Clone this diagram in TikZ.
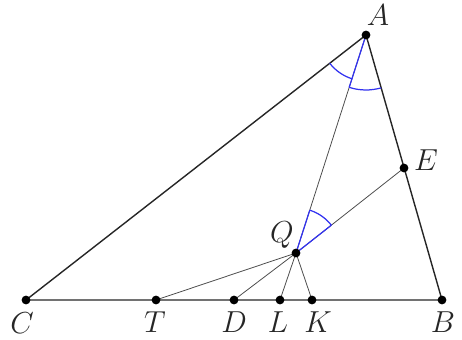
\documentclass[tikz,border=0pt]{standalone}
\usetikzlibrary{calc,angles}
\definecolor{mblue}{RGB}{50,50,240}
\begin{document}
\begin{tikzpicture}[x=0.02cm,y=-0.02cm,
  tri/.style={line width=0.8pt,black!85},
  thinline/.style={line width=0.45pt,black!70},
  angmark/.style={draw=mblue,line width=0.7pt},
  dot/.style={circle,fill=black,inner sep=0pt,minimum size=5pt},
  lab/.style={font=\fontsize{18}{21}\selectfont,text=black!85}]
\useasboundingbox (0,0) rectangle (462,340);
\coordinate (A) at (366,35);
\coordinate (B) at (442,300);
\coordinate (C) at (26,300);
\coordinate (E) at (404,168);
\coordinate (Q) at (296,253);
\coordinate (T) at (156,300);
\coordinate (D) at (234,300);
\coordinate (L) at (280,300);
\coordinate (K) at (312,300);
% thin lines
\draw[thinline] (A) -- (Q);
\draw[thinline] (Q) -- (E);
\draw[thinline] (Q) -- (T);
\draw[thinline] (Q) -- (D);
\draw[thinline] (Q) -- (L);
\draw[thinline] (Q) -- (K);
% triangle
\draw[tri] (A) -- (B) -- (C) -- cycle;
% angle marks
\pic[angmark, angle radius=0.92cm] {angle = C--A--Q};
\pic[angmark, angle radius=1.1cm] {angle = Q--A--B};
\pic[angmark, angle radius=0.9cm] {angle = E--Q--A};
\draw[mblue,line width=0.7pt] (A) -- ($(A)!1.1cm!(Q)$);
\draw[mblue,line width=0.7pt] (Q) -- ($(Q)!0.9cm!(A)$);
\draw[mblue,line width=0.7pt] (Q) -- ($(Q)!0.9cm!(E)$);
% dots
\foreach \p in {A,B,C,E,Q,T,D,L,K} \node[dot] (d\p) at (\p) {};
% labels
\node[lab] (lA) at (378,15) {$A$};
\node[lab] (lB) at (443,322) {$B$};
\node[lab] (lC) at (22,323) {$C$};
\node[lab] (lE) at (426,160) {$E$};
\node[lab] (lQ) at (282,235) {$Q$};
\node[lab] (lT) at (155,322) {$T$};
\node[lab] (lD) at (234,322) {$D$};
\node[lab] (lL) at (278,322) {$L$};
\node[lab] (lK) at (318,322) {$K$};
\end{tikzpicture}
\end{document}
